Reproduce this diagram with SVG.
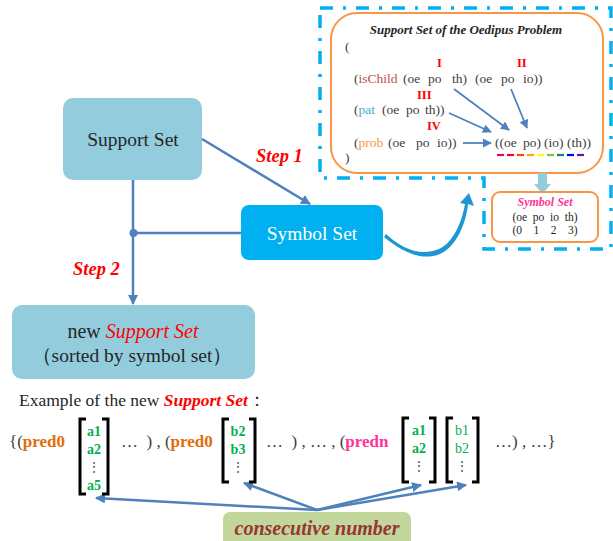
<svg xmlns="http://www.w3.org/2000/svg" width="613" height="541" viewBox="0 0 613 541" font-family="'Liberation Serif', 'DejaVu Serif', serif">
  <style>
    text { font-family: 'Liberation Serif', 'DejaVu Serif', serif; fill: #262626; }
    .node-lt { fill: #93cddd; }
    .node-dk { fill: #00b0f0; }
    .conn { stroke: #4f81bd; stroke-width: 2.5; fill: none; }
    .thin { stroke: #4f81bd; stroke-width: 1.8; fill: none; }
    .step { fill: #ff0000; font-weight: bold; font-style: italic; font-size: 18.5px; }
    .inner { font-size: 13.5px; fill: #404040; }
    .roman { font-size: 12.5px; fill: #ff0000; font-weight: bold; }
    .grn { fill: #00b050; font-weight: bold; font-size: 14px; }
    .grn-r { fill: #00b050; font-size: 14px; }
    .vdots { fill: #404040; font-size: 12px; }
    .brk { stroke: #000; stroke-width: 3; fill: none; }
    .row { font-size: 17px; fill: #404040; }
  </style>
  <defs>
    <marker id="ah" viewBox="0 0 10 10" refX="9" refY="5" markerWidth="4" markerHeight="4" orient="auto">
      <path d="M0,0 L10,5 L0,10 z" fill="#4f81bd"/>
    </marker>
    <marker id="ahs" viewBox="0 0 10 10" refX="9" refY="5" markerWidth="5" markerHeight="5" orient="auto">
      <path d="M0,0 L10,5 L0,10 z" fill="#4f81bd"/>
    </marker>
  </defs>

  <!-- dash-dot frame around the support set panel -->
  <path d="M320,8 L611,8 L611,249 L484,249 L484,178 L320,178 Z" fill="none" stroke="#00b0f0" stroke-width="3.5" stroke-dasharray="13 10 3 10"/>

  <!-- Oedipus support set panel -->
  <g id="oedipus-panel">
    <rect x="331" y="13" width="272" height="160" rx="26" fill="#fff" stroke="#f79646" stroke-width="2"/>
    <text x="466" y="34" text-anchor="middle" font-size="13" font-weight="bold" font-style="italic" fill="#262626">Support Set of the Oedipus Problem</text>
    <text class="inner" x="345" y="51">(</text>
    <text class="roman" x="437" y="67">I</text>
    <text class="roman" x="517" y="67">II</text>
    <text class="inner" x="354" y="83">(<tspan fill="#c0504d">isChild</tspan></text>
    <text class="inner" x="403" y="83">(oe</text>
    <text class="inner" x="428" y="83">po</text>
    <text class="inner" x="452" y="83">th)</text>
    <text class="inner" x="475" y="83">(oe</text>
    <text class="inner" x="501" y="83">po</text>
    <text class="inner" x="523" y="83">io))</text>
    <text class="roman" x="417" y="99">III</text>
    <text class="inner" x="354" y="114">(<tspan fill="#4bacc6">pat</tspan></text>
    <text class="inner" x="382" y="114">(oe</text>
    <text class="inner" x="406" y="114">po</text>
    <text class="inner" x="425" y="114">th))</text>
    <text class="roman" x="427" y="130">IV</text>
    <text class="inner" x="354" y="147">(<tspan fill="#f79646">prob</tspan></text>
    <text class="inner" x="388" y="147">(oe</text>
    <text class="inner" x="416" y="147">po</text>
    <text class="inner" x="437" y="147">io))</text>
    <text class="inner" x="495" y="147">((oe</text>
    <text class="inner" x="523" y="147">po)</text>
    <text class="inner" x="544" y="147">(io)</text>
    <text class="inner" x="567" y="147">(th))</text>
    <text class="inner" x="345" y="162">)</text>
    <!-- rainbow underline of the ordered tuple -->
    <g stroke-width="2.2">
      <line x1="497" y1="155" x2="504" y2="155" stroke="#e4007f"/>
      <line x1="507" y1="155" x2="514" y2="155" stroke="#ff0033"/>
      <line x1="517" y1="155" x2="524" y2="155" stroke="#ff4500"/>
      <line x1="527" y1="155" x2="534" y2="155" stroke="#ffa500"/>
      <line x1="537" y1="155" x2="544" y2="155" stroke="#ffff00"/>
      <line x1="547" y1="155" x2="554" y2="155" stroke="#7fc31c"/>
      <line x1="557" y1="155" x2="564" y2="155" stroke="#00897b"/>
      <line x1="567" y1="155" x2="574" y2="155" stroke="#0000ff"/>
      <line x1="577" y1="155" x2="584" y2="155" stroke="#6a0dad"/>
    </g>
    <!-- arrows inside the panel -->
    <line class="thin" x1="454" y1="89" x2="509" y2="130" marker-end="url(#ahs)"/>
    <line class="thin" x1="511" y1="89" x2="527" y2="128" marker-end="url(#ahs)"/>
    <line class="thin" x1="449" y1="113" x2="491" y2="132" marker-end="url(#ahs)"/>
    <line class="thin" x1="463" y1="143" x2="491" y2="143" marker-end="url(#ahs)"/>
  </g>

  <!-- wide arrow into the symbol set card -->
  <path d="M538,173 L547,173 L547,184 L551,184 L542.5,194 L534,184 L538,184 Z" fill="#93cddd"/>

  <g id="symbol-card">
    <rect x="492" y="192" width="106" height="50" rx="8" fill="#fff" stroke="#f79646" stroke-width="2"/>
    <text x="545" y="206" text-anchor="middle" font-size="12" font-weight="bold" font-style="italic" style="fill:#ff3399">Symbol Set</text>
    <text x="545" y="221" text-anchor="middle" font-size="11.5" fill="#404040" xml:space="preserve">(oe  po  io  th)</text>
    <text x="545" y="234" text-anchor="middle" font-size="11.5" fill="#404040" xml:space="preserve">(0    1    2    3)</text>
  </g>

  <!-- main nodes -->
  <g id="support-set">
    <rect class="node-lt" x="63" y="98" width="139" height="82" rx="10"/>
    <text x="133" y="146" text-anchor="middle" font-size="19.5">Support Set</text>
  </g>
  <g id="symbol-set">
    <rect class="node-dk" x="241" y="205" width="142" height="55" rx="8"/>
    <text x="312" y="240" text-anchor="middle" font-size="19.5" style="fill:#fff">Symbol Set</text>
  </g>
  <g id="new-support-set">
    <rect class="node-lt" x="12" y="305" width="243" height="74" rx="10"/>
    <text x="133" y="338" text-anchor="middle" font-size="20">new <tspan fill="#ff0000" font-style="italic">Support Set</tspan></text>
    <text x="132" y="362" text-anchor="middle" font-size="19.5">（sorted by symbol set）</text>
  </g>
  <g id="consecutive-number">
    <rect x="223" y="512" width="188" height="40" rx="7" fill="#c3d69b"/>
    <text x="317" y="535" text-anchor="middle" font-size="20" font-weight="bold" font-style="italic" style="fill:#953735">consecutive number</text>
  </g>

  <!-- connectors -->
  <g id="connectors">
    <line class="conn" x1="202" y1="139" x2="310" y2="204" marker-end="url(#ah)"/>
    <line class="conn" x1="133" y1="180" x2="133" y2="304" marker-end="url(#ah)"/>
    <line class="conn" x1="133" y1="233" x2="241" y2="233"/>
    <circle cx="133.5" cy="233" r="4" fill="#4f81bd"/>
    <!-- curved arrow from the symbol set node to the panel -->
    <path d="M384,237 C400,250 420,262 440,254 C456,247 466,224 468,204 L474,206 L469,193 L460,203 L465,204 C462,222 453,243 439,249 C420,257 401,248 386,234 Z" fill="#1d96d3"/>
    <!-- arrows from the label to the brackets -->
    <line class="conn" x1="317" y1="510" x2="96" y2="498" marker-end="url(#ah)"/>
    <line class="conn" x1="317" y1="510" x2="244" y2="483" marker-end="url(#ah)"/>
    <line class="conn" x1="317" y1="510" x2="421" y2="485" marker-end="url(#ah)"/>
    <line class="conn" x1="317" y1="510" x2="466" y2="485" marker-end="url(#ah)"/>
  </g>

  <text class="step" x="256" y="162">Step 1</text>
  <text class="step" x="73" y="275">Step 2</text>

  <!-- example of the reordered support set -->
  <text x="19" y="406" font-size="17.5">Example of the new <tspan fill="#ff0000" font-weight="bold" font-style="italic">Support Set</tspan>：</text>

  <text class="row" x="9" y="447">{(<tspan fill="#e46c0a" font-weight="bold">pred0</tspan></text>
  <path class="brk" d="M86,419 L80,419 L80,494 L86,494 M102,419 L108,419 L108,494 L102,494"/>
  <text class="grn" x="94" y="436" text-anchor="middle">a1</text>
  <text class="grn" x="94" y="454" text-anchor="middle">a2</text>
  <text class="vdots" x="94" y="471" text-anchor="middle">⋮</text>
  <text class="grn" x="94" y="490" text-anchor="middle">a5</text>
  <text class="row" x="121" y="447" xml:space="preserve">…  ) , (<tspan fill="#e46c0a" font-weight="bold">pred0</tspan></text>

  <path class="brk" d="M229,419 L223,419 L223,482 L229,482 M249,419 L255,419 L255,482 L249,482"/>
  <text class="grn" x="238" y="436" text-anchor="middle">b2</text>
  <text class="grn" x="238" y="454" text-anchor="middle">b3</text>
  <text class="vdots" x="238" y="471" text-anchor="middle">⋮</text>
  <text class="row" x="266" y="447" xml:space="preserve">…  ) , … , (<tspan fill="#ff3399" font-weight="bold">predn</tspan></text>

  <path class="brk" d="M409,418 L403,418 L403,482 L409,482 M429,418 L435,418 L435,482 L429,482"/>
  <text class="grn" x="419" y="435" text-anchor="middle">a1</text>
  <text class="grn" x="419" y="453" text-anchor="middle">a2</text>
  <text class="vdots" x="419" y="470" text-anchor="middle">⋮</text>

  <path class="brk" d="M453,418 L447,418 L447,482 L453,482 M472,418 L478,418 L478,482 L472,482"/>
  <text class="grn-r" x="462" y="435" text-anchor="middle">b1</text>
  <text class="grn-r" x="462" y="453" text-anchor="middle">b2</text>
  <text class="vdots" x="462" y="470" text-anchor="middle">⋮</text>
  <text class="row" x="495" y="447">…) , …}</text>
</svg>
